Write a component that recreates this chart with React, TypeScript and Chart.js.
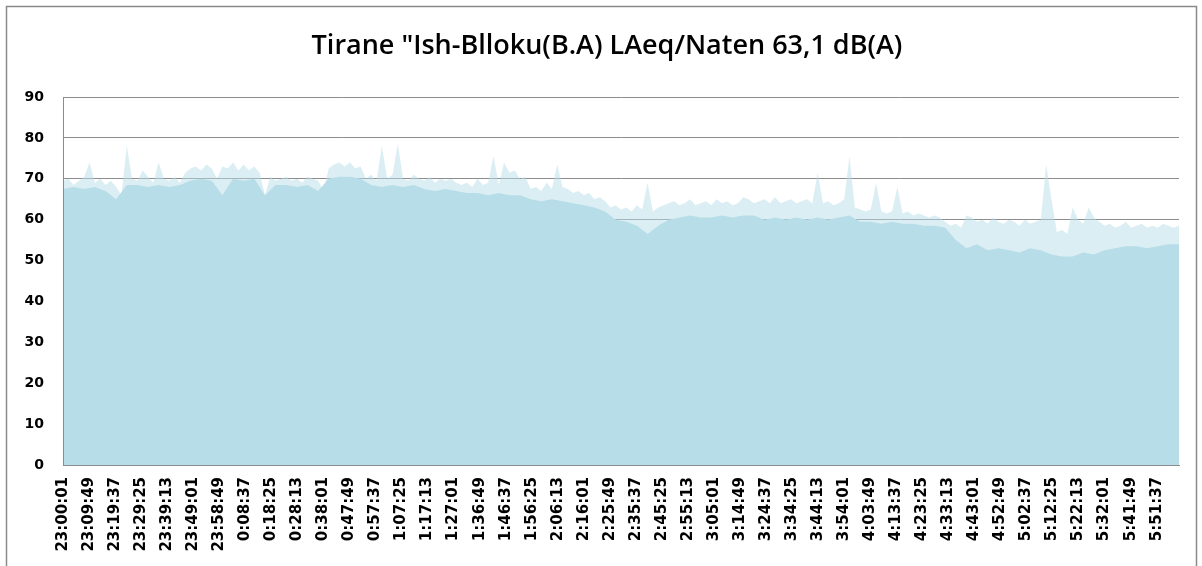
import { useEffect, useRef } from "react";
import { Chart, registerables } from "chart.js";

Chart.register(...registerables);

const TITLE = 'Tirane "Ish-Blloku(B.A) LAeq/Naten 63,1 dB(A)';

const tickLabels = [
  "23:00:01", "23:09:49", "23:19:37", "23:29:25", "23:39:13", "23:49:01", "23:58:49",
  "0:08:37", "0:18:25", "0:28:13", "0:38:01", "0:47:49", "0:57:37",
  "1:07:25", "1:17:13", "1:27:01", "1:36:49", "1:46:37", "1:56:25",
  "2:06:13", "2:16:01", "2:25:49", "2:35:37", "2:45:25", "2:55:13",
  "3:05:01", "3:14:49", "3:24:37", "3:34:25", "3:44:13", "3:54:01",
  "4:03:49", "4:13:37", "4:23:25", "4:33:13", "4:43:01", "4:52:49",
  "5:02:37", "5:12:25", "5:22:13", "5:32:01", "5:41:49", "5:51:37",
];

const LABEL_STEP_S = 588;
const DURATION_S = 25200;
const PEAK_STEP_S = 120;
const FLOOR_STEP_S = 240;

// LAeq peaks (light upper envelope), one value every 120 s from 23:00:01
const peakLevels = [
  69.5, 70, 68.5, 69.5, 70.5, 74, 69, 70, 68.5, 69.5,
  68, 66, 78,
  70, 69.5, 72, 70.5, 69, 74, 70, 69.5, 70.5, 69,
  71.5, 72.5, 73, 72, 73.5, 72.5, 70, 73, 72.5, 74, 72, 73.5, 72, 73, 71.5,
  66,
  70.5, 69.5, 70, 70.5, 69.5, 70, 69, 70.5, 70, 69.5,
  67,
  72.5, 73.5, 74, 73, 74, 72.5, 73,
  70, 71, 69.5, 78, 70, 71, 78.5, 70, 69.5, 71, 70,
  69.5, 70.5, 69, 70, 69.5, 70, 69,
  68.5, 69, 68, 70, 68.5, 69, 75.5, 68.5, 74,
  71.5, 72, 70, 70.5,
  67.5, 68, 67, 69, 67.5,
  73.5,
  68, 67.5, 66.5, 67, 66, 66.5, 65, 65.5, 64.5,
  63, 63.5, 62.5, 63, 62, 63.5, 62.5, 69, 62, 63, 63.5,
  64, 64.5, 63.5, 64, 65, 63.5, 64, 64.5, 63.5, 65, 64, 64.5, 63.5, 64,
  65.5, 65, 64, 64.5, 65, 64, 65.5, 64, 64.5, 65, 64, 64.5, 65, 64,
  71.5,
  64, 64.5, 63.5, 64, 65,
  75.5,
  63, 62.5, 62, 62.5, 69, 62, 61.5, 62, 68, 61.5, 62, 61, 61.5, 61, 60.5, 61, 60.5,
  59.5, 58.5, 59, 58,
  61, 60.5,
  59.5, 60, 59, 60.5, 59.5, 59, 60, 59.5, 58.5, 60, 59, 59.5, 60,
  73.5,
  65, 57, 57.5, 56.5,
  63, 60, 59, 63, 60.5, 59.5,
  58.5, 59, 58, 58.5, 59.5, 58, 58.5, 59, 58, 58.5, 58, 59, 58.5, 58, 58.5,
];

// LAeq dense body (solid lower envelope), one value every 240 s
const floorLevels = [
  67.5, 68, 67.5, 68, 67, 65, 68.5, 68.5, 68, 68.5,
  68, 68.5, 69.5, 70, 69.5, 66, 70, 69.5, 70, 66,
  68.5, 68.5, 68, 68.5, 67, 70, 70.5, 70.5, 70, 68.5,
  68, 68.5, 68, 68.5, 67.5, 67, 67.5, 67, 66.5, 66.5,
  66, 66.5, 66, 66, 65, 64.5, 65, 64.5, 64, 63.5,
  63, 62, 60, 59.5, 58.5, 56.5, 58.5, 60, 60.5, 61,
  60.5, 60.5, 61, 60.5, 61, 61, 60, 60.5, 60, 60.5,
  60, 60.5, 60, 60.5, 61, 59.5, 59.5, 59, 59.5, 59,
  59, 58.5, 58.5, 58, 55, 53, 54, 52.5, 53, 52.5,
  52, 53, 52.5, 51.5, 51, 51, 52, 51.5, 52.5, 53,
  53.5, 53.5, 53, 53.5, 54, 54,
];

const yTicks = [0, 10, 20, 30, 40, 50, 60, 70, 80, 90];

const FILL = "rgb(183,221,232)";
const FILL_LIGHT = "rgba(183,221,232,0.5)";
const GRID = "#8c8c8c";

export default function App() {
  const ref = useRef<HTMLCanvasElement | null>(null);

  useEffect(() => {
    const canvas = ref.current;
    if (!canvas) return;

    const frame = {
      id: "frame",
      beforeDraw(chart: any) {
        const ctx = chart.ctx;
        ctx.save();
        ctx.fillStyle = "#fff";
        ctx.fillRect(0, 0, chart.width, chart.height);
        ctx.strokeStyle = "#8a8a8a";
        ctx.lineWidth = 1.5;
        ctx.strokeRect(6.5, 6.5, 1190, 600);
        ctx.fillStyle = "#000";
        ctx.font = '600 27px "Open Sans"';
        ctx.textAlign = "center";
        ctx.textBaseline = "middle";
        ctx.fillText(TITLE, 607, 46);
        ctx.restore();
      },
    };

    const chart = new Chart(canvas, {
      type: "line",
      data: {
        datasets: [
          {
            label: "floor",
            data: floorLevels.map((v, i) => ({ x: i * FLOOR_STEP_S, y: v })),
            backgroundColor: FILL,
            borderWidth: 0,
            pointRadius: 0,
            fill: "origin",
            tension: 0,
            order: 1,
          },
          {
            label: "peaks",
            data: peakLevels.map((v, i) => ({ x: i * PEAK_STEP_S, y: v })),
            backgroundColor: FILL_LIGHT,
            borderWidth: 0,
            pointRadius: 0,
            fill: "origin",
            tension: 0,
            order: 2,
          },
        ],
      },
      options: {
        responsive: false,
        animation: false,
        events: [],
        layout: { padding: { top: 97, right: 23, bottom: 0, left: 0 } },
        plugins: {
          legend: { display: false },
          title: { display: false },
          tooltip: { enabled: false },
        },
        scales: {
          x: {
            type: "linear",
            min: 0,
            max: DURATION_S,
            afterFit(scale: any) {
              scale.height = 101;
            },
            afterBuildTicks(scale: any) {
              scale.ticks = tickLabels.map((_, i) => ({ value: i * LABEL_STEP_S }));
            },
            grid: { display: false, drawTicks: false },
            border: { display: true, color: GRID, width: 1, z: 1 },
            ticks: {
              autoSkip: false,
              maxRotation: 90,
              minRotation: 90,
              padding: 12,
              color: "#000",
              font: { family: "DejaVu Sans", weight: "bold", size: 15 },
              callback: (_v: any, i: number) => tickLabels[i],
            },
          },
          y: {
            min: 0,
            max: 90,
            afterFit(scale: any) {
              scale.width = 63;
            },
            afterBuildTicks(scale: any) {
              scale.ticks = yTicks.map((v) => ({ value: v }));
            },
            grid: { color: GRID, lineWidth: 1, drawTicks: false },
            border: { display: true, color: GRID, width: 1, z: 1 },
            ticks: {
              padding: 19,
              color: "#000",
              font: { family: "DejaVu Sans", weight: "bold", size: 14 },
            },
          },
        },
      },
      plugins: [frame],
    });

    return () => chart.destroy();
  }, []);

  return (
    <div style={{ position: "fixed", left: 0, top: 0, width: 1202, height: 566, background: "#fff" }}>
      <canvas ref={ref} width={1202} height={566} style={{ display: "block" }} />
    </div>
  );
}
